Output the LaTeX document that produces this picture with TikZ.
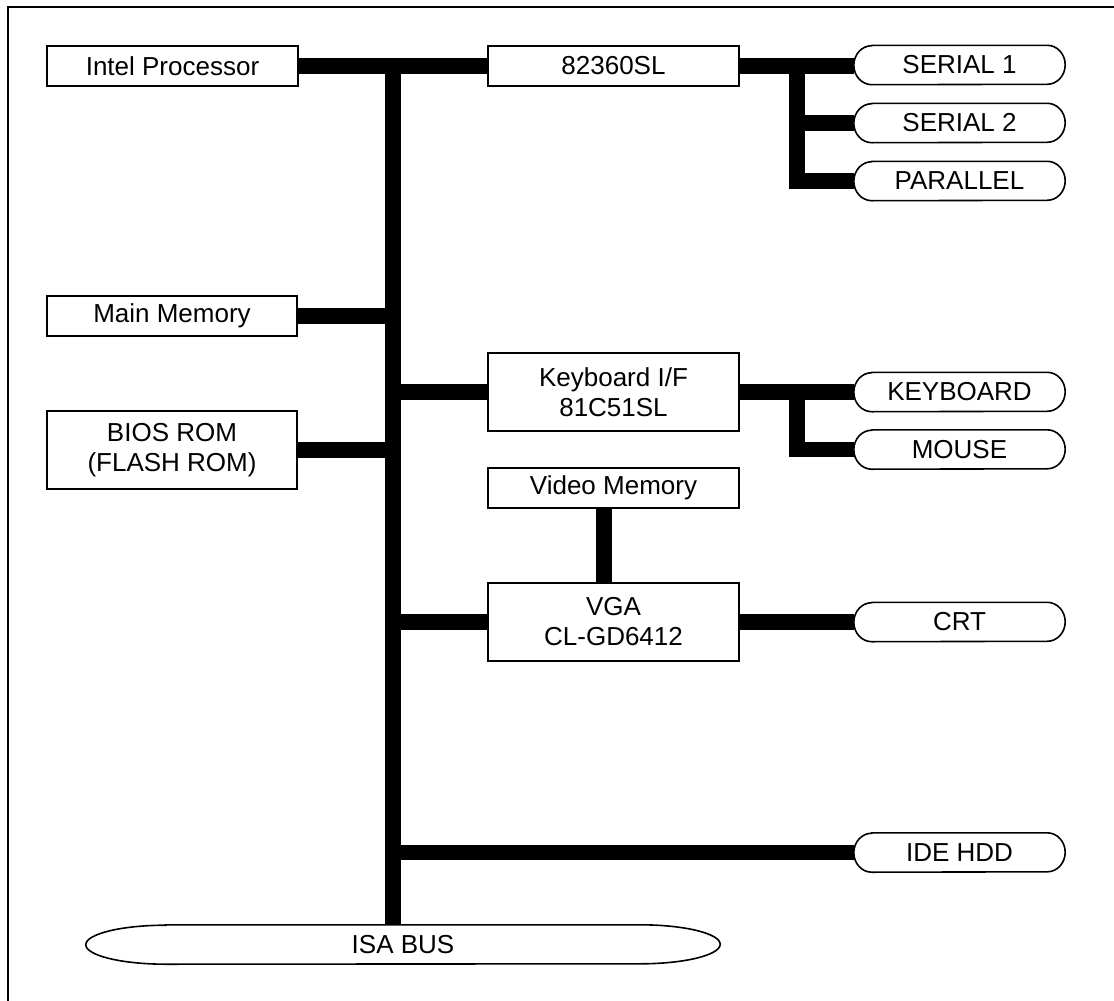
\documentclass[tikz,border=0pt]{standalone}
\usepackage{fontspec}
\setmainfont{Liberation Sans}
\usetikzlibrary{calc}
\newcommand{\termedge}[3]{%
  \draw[outl] ([xshift=#2pt]#1.north west) -- ([xshift=-#2pt]#1.north east)
    arc[start angle=90, end angle=-90, x radius=#2pt, y radius=#3pt]
    -- ([xshift=#2pt]#1.south west)
    arc[start angle=270, end angle=90, x radius=#2pt, y radius=#3pt] -- cycle;}
\begin{document}
\begin{tikzpicture}[x=1pt,y=-1pt,
  every node/.style={font=\fontsize{26}{30}\selectfont, align=center, inner sep=0pt},
  blk/.style={draw, line width=1.6pt, minimum width=251pt},
  term/.style={minimum width=211pt, minimum height=39pt},
  outl/.style={line width=1.6pt},
  bus/.style={line width=15.5pt},
  vbus/.style={line width=15.5pt, line cap=rect}]
\useasboundingbox (0,0) rectangle (1114,1001);
% frame
\draw[line width=2pt] (1114,7) -- (8,7) -- (8,1001);
% blocks
\node[blk, minimum height=40pt] (intel) at (172.5,66) {Intel Processor};
\node[blk, minimum height=40pt] (c82) at (613.5,66) {82360SL};
\node[blk, minimum height=40pt, minimum width=250pt] (mainmem) at (172,316) {Main Memory};
\node[blk, minimum height=78pt, minimum width=250pt] (bios) at (172,450) {BIOS ROM\\(FLASH ROM)};
\node[blk, minimum height=78pt] (kbif) at (613.5,392) {Keyboard I/F\\81C51SL};
\node[blk, minimum height=40pt] (vidmem) at (613.5,488) {Video Memory};
\node[blk, minimum height=78pt] (vga) at (613.5,622) {VGA\\CL-GD6412};
% terminators
\node[term] (serial1) at (959.5,65) {SERIAL 1};
\node[term] (serial2) at (959.5,123) {SERIAL 2};
\node[term] (parallel) at (959.5,181) {PARALLEL};
\node[term] (keyboard) at (959.5,392) {KEYBOARD};
\node[term] (mouse) at (959.5,449.5) {MOUSE};
\node[term] (crt) at (959.5,622) {CRT};
\node[term] (idehdd) at (959.5,852.5) {IDE HDD};
\node[minimum width=634pt, minimum height=39pt] (isa) at (403,944.5) {ISA BUS};
\termedge{serial1}{18}{19.5}
\termedge{serial2}{18}{19.5}
\termedge{parallel}{18}{19.5}
\termedge{keyboard}{18}{19.5}
\termedge{mouse}{18}{19.5}
\termedge{crt}{18}{19.5}
\termedge{idehdd}{18}{19.5}
\termedge{isa}{80}{19.5}
% bus coordinates
\coordinate (bustop) at (393,58);
\coordinate (br1) at (797,66);
\coordinate (br2) at (797,392);
% connectors
\draw[bus] (intel.east) -- (c82.west);
\draw[bus] (bustop) -- (bustop |- isa.north);
\draw[bus] (mainmem.east) -- (mainmem.east -| bustop);
\draw[bus] (bios.east) -- (bios.east -| bustop);
\draw[bus] (kbif.west) -- (kbif.west -| bustop);
\draw[bus] (vga.west) -- (vga.west -| bustop);
\draw[bus] (idehdd.west) -- (idehdd.west -| bustop);
\draw[bus] (c82.east) -- (serial1.west |- c82.east);
\draw[vbus] (br1) -- (br1 |- parallel.west);
\draw[bus] (br1 |- serial2.west) -- (serial2.west);
\draw[bus] (br1 |- parallel.west) -- (parallel.west);
\draw[bus] (kbif.east) -- (keyboard.west);
\draw[vbus] (br2) -- (br2 |- mouse.west);
\draw[bus] (br2 |- mouse.west) -- (mouse.west);
\draw[bus] ([xshift=-9.5pt]vidmem.south) -- ([xshift=-9.5pt]vga.north);
\draw[bus] (vga.east) -- (crt.west);
\end{tikzpicture}
\end{document}
